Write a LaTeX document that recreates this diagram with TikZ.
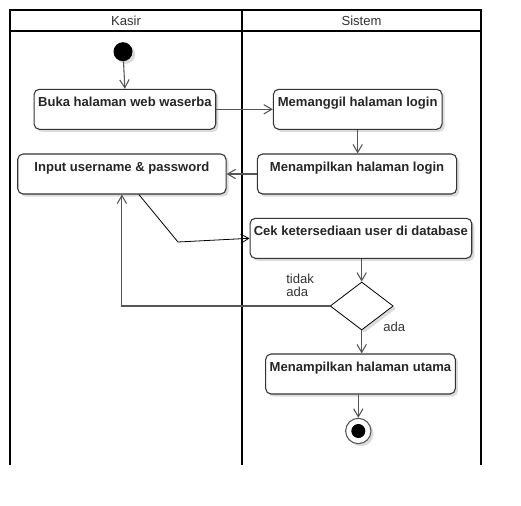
\documentclass[tikz,border=0pt]{standalone}
\usepackage{fontspec}
\setmainfont{Liberation Sans}
\usetikzlibrary{arrows.meta,shapes.geometric,shadows,calc}
\definecolor{txt}{HTML}{333333}
\definecolor{ln}{HTML}{555555}
\begin{document}
\begin{tikzpicture}[x=0.75pt,y=-0.75pt,
  shd/.style={drop shadow={shadow xshift=2pt,shadow yshift=-2pt,fill=black!14,opacity=1}},
  act/.style={draw=txt,line width=0.8pt,rounded corners=4pt,fill=white,shd,
    minimum height=30pt,inner sep=0pt},
  toplbl/.style={anchor=north,inner sep=0pt,yshift=-6.2pt,font=\fontsize{9.8}{11}\selectfont\bfseries,text=black!85},
  lane/.style={line width=1.5pt,black},
  conn/.style={draw=ln,line width=0.8pt,-{Straight Barb[length=6pt,width=7pt]}},
  lbl/.style={font=\fontsize{9.8}{9.8}\selectfont,text=txt,inner sep=0pt,align=left}]
\useasboundingbox (0,0) rectangle (521,506);
% swimlanes
\draw[lane] (10,465) -- (10,10) -- (481,10) -- (481,465);
\draw[lane] (242,10) -- (242,465);
\draw[lane] (10,31) -- (481,31);
\node[lbl] (hk) at (126,20.5) {Kasir};
\node[lbl] (hs) at (361.5,20.5) {Sistem};
% nodes
\node[circle,fill=black,minimum size=14.25pt,inner sep=0pt,shd] (st) at (123,51.7) {};
\node[act,minimum width=136.3pt] (b1) at (124.9,109.3) {};
\node[toplbl] at (b1.north) {Buka halaman web waserba};
\node[act,minimum width=126.5pt] (b3) at (357.7,109.3) {};
\node[toplbl] at (b3.north) {Memanggil halaman login};
\node[act,minimum width=156.2pt] (b2) at (121.9,174) {};
\node[toplbl] at (b2.north) {Input username \& password};
\node[act,minimum width=149.5pt] (b4) at (357,174) {};
\node[toplbl] at (b4.north) {Menampilkan halaman login};
\node[act,minimum width=166.3pt] (b5) at (360.9,238.3) {};
\node[toplbl] at (b5.north) {Cek ketersediaan user di database};
\node[diamond,draw=black,line width=0.6pt,fill=white,shd,minimum width=47.3pt,minimum height=36pt,inner sep=0pt,aspect=1.3] (dm) at (361.7,306) {};
\node[act,minimum width=142.2pt] (b6) at (360.5,374) {};
\node[toplbl] at (b6.north) {Menampilkan halaman utama};
\node[circle,draw=ln,line width=0.8pt,fill=white,minimum size=19pt,inner sep=0pt,shd] (en) at (358.3,431) {};
\node[circle,fill=black,minimum size=10.5pt,inner sep=0pt] (enc) at (en) {};
% labels
\node[lbl,anchor=west] (ltid) at (286,285.3) {tidak\\ada};
\node[lbl,anchor=west] (lada) at (383,326.7) {ada};
% connectors
\draw[conn] (st) -- (b1.north);
\draw[conn] (b1.east) -- (b3.west);
\draw[conn] (b3.south) -- (b3.south |- b4.north);
\draw[conn] (b4.west) -- (b2.east);
\coordinate (bend) at (178,242);
\draw[draw=black,line width=0.6pt,-{Straight Barb[length=6pt,width=7pt]}] ([xshift=12.75pt]b2.south) -- (bend) -- (b5.west);
\draw[conn] (b5.south -| dm.north) -- (dm.north);
\draw[conn] (dm.west) -| (b2.south);
\draw[conn] (dm.south) -- (dm.south |- b6.north);
\draw[conn] (b6.south -| en.north) -- (en.north);
\end{tikzpicture}
\end{document}
